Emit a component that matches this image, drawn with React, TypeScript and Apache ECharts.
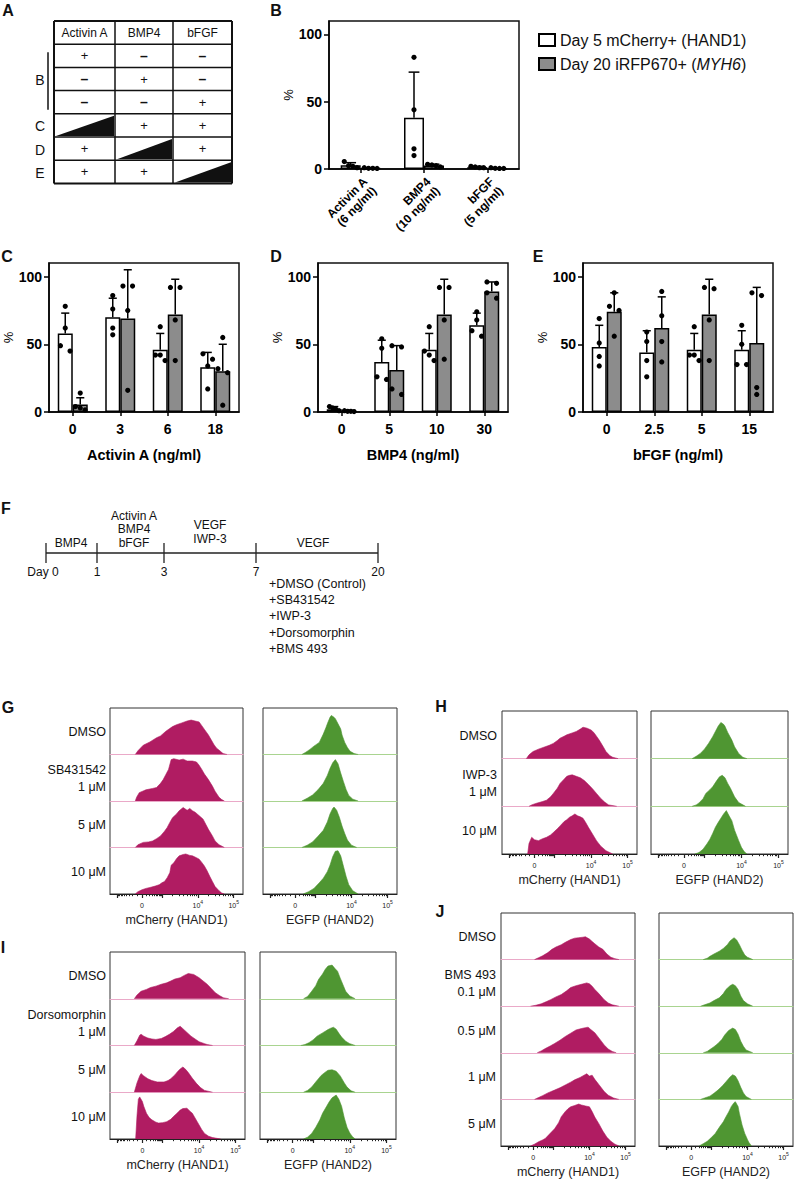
import React, { useEffect, useRef } from "react";
import * as echarts from "echarts";

const FONT = "'Liberation Sans', Arial, Helvetica, sans-serif";
const WHITE_NAME = "Day 5 mCherry+ (HAND1)";
const GRAY_NAME = "Day 20 iRFP670+ (MYH6)";
const BAR_GRAY = "#8c8c8c";
const MAGENTA = "#b01c62";
const GREEN = "#4f9632";
const PINK_BASE = "#eaa9c8";
const GREEN_BASE = "#a9d490";

// ---------- Panel A ----------
const TABLE_HEADERS = ["Activin A", "BMP4", "bFGF"];
const TABLE_CELLS = [
  ["+", "–", "–"],
  ["–", "+", "–"],
  ["–", "–", "+"],
  ["ramp", "+", "+"],
  ["+", "ramp", "+"],
  ["+", "+", "ramp"],
];
const TABLE_GROUP_LABELS = ["B", "C", "D", "E"];
const TABLE_GROUP_ROWS = [[0, 2], [3, 3], [4, 4], [5, 5]];

// ---------- Panel B ----------
const B_CATEGORIES = ["Activin A\n(6 ng/ml)", "BMP4\n(10 ng/ml)", "bFGF\n(5 ng/ml)"];
const B_DAY5_MEAN = [2.7, 38, 1.4];
const B_DAY5_SD = [2, 34, 0.6];
const B_DAY5_POINTS = [[5.5, 2.5, 2, 1], [83, 44, 15, 10], [2, 1.5, 1, 1]];
const B_DAY20_MEAN = [0.6, 2.6, 0.5];
const B_DAY20_SD = [0.3, 1, 0.3];
const B_DAY20_POINTS = [[1, 0.5, 0.5, 0.4], [3.5, 3, 2.5, 1.5], [1, 0.5, 0.4, 0.4]];

// ---------- Panel C ----------
const C_CATEGORIES = ["0", "3", "6", "18"];
const C_DAY5_MEAN = [58, 70, 46, 33];
const C_DAY5_SD = [15, 14, 12, 11];
const C_DAY5_POINTS = [[78, 62, 49, 45], [86, 76, 62, 57], [63, 42, 42, 38], [43, 39, 34, 17]];
const C_DAY20_MEAN = [5.5, 69, 72, 30];
const C_DAY20_SD = [5, 36, 26, 20];
const C_DAY20_POINTS = [[14, 4, 3, 1.5], [93, 93, 75, 16], [92, 92, 68, 38], [55, 32, 29, 5]];

// ---------- Panel D ----------
const D_CATEGORIES = ["0", "5", "10", "30"];
const D_DAY5_MEAN = [2, 37, 46, 64];
const D_DAY5_SD = [2, 16, 12, 9];
const D_DAY5_POINTS = [[4, 3, 2, 1], [54, 47, 26, 24], [63, 45, 42, 38], [74, 68, 60, 56]];
const D_DAY20_MEAN = [0.5, 31, 72, 89];
const D_DAY20_SD = [0.5, 18, 26, 7];
const D_DAY20_POINTS = [[1, 0.5, 0.5, 0.3], [49, 48, 17, 13], [92, 92, 68, 39], [96, 95, 88, 84]];

// ---------- Panel E ----------
const E_CATEGORIES = ["0", "2.5", "5", "15"];
const E_DAY5_MEAN = [48, 44, 46, 46];
const E_DAY5_SD = [16, 16, 12, 14];
const E_DAY5_POINTS = [[69, 51, 41, 34], [59, 52, 38, 26], [63, 42, 42, 38], [64, 50, 35, 35]];
const E_DAY20_MEAN = [74, 62, 72, 51];
const E_DAY20_SD = [14, 23, 26, 41];
const E_DAY20_POINTS = [[88, 78, 75, 56], [89, 71, 52, 37], [91, 92, 68, 38], [88, 86, 18, 13]];

const BAR_Y_TICKS = [0, 50, 100];

// ---------- Panel F ----------
const F_DAYS = ["Day 0", "1", "3", "7", "20"];
const F_STAGE_LABELS = [["BMP4"], ["Activin A", "BMP4", "bFGF"], ["VEGF", "IWP-3"], ["VEGF"]];
const F_TREATMENTS = ["+DMSO (Control)", "+SB431542", "+IWP-3", "+Dorsomorphin", "+BMS 493"];

// ---------- Flow histograms (display position 0-100 across the plot, normalised count) ----------
const HIST_TICK_MAJOR = [-1000, 0, 1000, 10000, 100000];
const HIST_TICK_MINOR = [
  -900, -800, -700, -600, -500, -400, -300, -200, -100,
  100, 200, 300, 400, 500, 600, 700, 800, 900,
  2000, 3000, 4000, 5000, 6000, 7000, 8000, 9000,
  20000, 30000, 40000, 50000, 60000, 70000, 80000, 90000,
];
const HIST_LABEL_VALUES = [0, 10000, 100000];
const HIST_LABEL_TEXTS = ["{b|0}", "{b|10}{s|4}", "{b|10}{s|5}"];

const G_LABELS = ["DMSO", "SB431542\n1 μM", "5 μM", "10 μM"];
const G_MCHERRY = [
  [[19, 0], [21, 0.08], [25, 0.2], [30, 0.27], [35, 0.36], [38, 0.4], [42, 0.5], [47, 0.6], [50, 0.64], [54, 0.68], [58, 0.72], [61, 0.74], [64, 0.72], [67, 0.7], [69, 0.62], [71, 0.54], [74, 0.42], [76, 0.32], [78, 0.22], [80, 0.14], [83, 0.07], [85, 0.02], [88, 0]],
  [[19, 0], [20, 0.08], [22, 0.18], [27, 0.24], [32, 0.27], [35, 0.29], [38, 0.38], [40, 0.46], [42, 0.57], [44, 0.68], [46, 0.89], [48, 0.91], [52, 0.88], [55, 0.9], [58, 0.86], [62, 0.86], [65, 0.84], [67, 0.77], [69, 0.68], [71, 0.58], [74, 0.46], [77, 0.32], [79, 0.21], [82, 0.08], [84, 0.03], [86, 0]],
  [[19, 0], [21, 0.06], [25, 0.11], [29, 0.12], [32, 0.14], [35, 0.19], [38, 0.25], [41, 0.35], [43, 0.43], [45, 0.54], [47, 0.64], [50, 0.72], [52, 0.79], [55, 0.86], [58, 0.8], [60, 0.84], [62, 0.79], [64, 0.76], [66, 0.71], [68, 0.66], [70, 0.61], [72, 0.5], [74, 0.39], [77, 0.25], [79, 0.14], [82, 0.06], [86, 0]],
  [[19, 0], [21, 0.05], [24, 0.09], [27, 0.12], [30, 0.14], [34, 0.17], [37, 0.2], [39, 0.24], [41, 0.27], [43, 0.35], [45, 0.46], [46, 0.62], [48, 0.67], [50, 0.76], [52, 0.82], [55, 0.85], [57, 0.86], [60, 0.83], [62, 0.82], [65, 0.78], [67, 0.75], [69, 0.68], [71, 0.6], [73, 0.5], [75, 0.38], [77, 0.27], [79, 0.16], [82, 0.07], [84, 0.02], [86, 0]],
];
const G_EGFP = [
  [[29, 0], [32, 0.05], [35, 0.11], [38, 0.18], [42, 0.26], [45, 0.44], [47, 0.58], [48, 0.66], [50, 0.8], [51, 0.84], [53, 0.8], [54, 0.77], [56, 0.66], [58, 0.55], [59, 0.42], [61, 0.26], [63, 0.15], [65, 0.07], [68, 0.02], [71, 0]],
  [[29, 0], [33, 0.06], [37, 0.13], [41, 0.24], [45, 0.38], [48, 0.55], [50, 0.7], [52, 0.82], [54, 0.89], [56, 0.8], [58, 0.6], [60, 0.42], [62, 0.25], [64, 0.12], [67, 0.04], [71, 0]],
  [[29, 0], [33, 0.05], [37, 0.12], [41, 0.24], [45, 0.37], [48, 0.55], [50, 0.72], [52, 0.84], [53, 0.87], [55, 0.8], [57, 0.65], [59, 0.46], [61, 0.3], [63, 0.16], [66, 0.05], [70, 0]],
  [[30, 0], [34, 0.05], [38, 0.12], [42, 0.24], [45, 0.34], [48, 0.48], [50, 0.62], [52, 0.8], [54, 0.92], [56, 0.93], [58, 0.82], [60, 0.6], [62, 0.38], [64, 0.2], [67, 0.07], [71, 0]],
];

const H_LABELS = ["DMSO", "IWP-3\n1 μM", "10 μM"];
const H_MCHERRY = [
  [[18, 0], [20, 0.08], [23, 0.15], [27, 0.2], [31, 0.24], [35, 0.28], [38, 0.32], [41, 0.38], [43, 0.43], [46, 0.47], [48, 0.5], [52, 0.54], [55, 0.57], [58, 0.62], [60, 0.66], [63, 0.64], [66, 0.6], [68, 0.55], [70, 0.47], [72, 0.39], [75, 0.25], [77, 0.15], [80, 0.06], [82, 0.03], [86, 0]],
  [[20, 0], [22, 0.03], [25, 0.06], [30, 0.1], [33, 0.13], [36, 0.2], [38, 0.27], [41, 0.38], [43, 0.48], [46, 0.57], [48, 0.63], [50, 0.65], [52, 0.66], [55, 0.63], [58, 0.6], [61, 0.54], [64, 0.46], [67, 0.37], [70, 0.27], [73, 0.17], [76, 0.09], [79, 0.03], [85, 0]],
  [[19, 0], [20, 0.22], [22, 0.35], [24, 0.3], [27, 0.28], [30, 0.32], [33, 0.35], [36, 0.4], [38, 0.45], [41, 0.53], [43, 0.59], [46, 0.68], [48, 0.72], [50, 0.77], [52, 0.8], [54, 0.84], [56, 0.8], [58, 0.78], [60, 0.75], [62, 0.66], [64, 0.56], [67, 0.42], [70, 0.28], [73, 0.17], [77, 0.07], [82, 0]],
];
const H_EGFP = [
  [[30, 0], [33, 0.05], [36, 0.11], [39, 0.2], [42, 0.32], [45, 0.46], [47, 0.57], [49, 0.68], [51, 0.76], [53, 0.72], [54, 0.68], [56, 0.55], [59, 0.39], [61, 0.25], [64, 0.11], [67, 0.03], [70, 0]],
  [[30, 0], [33, 0.03], [35, 0.07], [38, 0.16], [40, 0.27], [43, 0.35], [45, 0.41], [48, 0.54], [50, 0.62], [52, 0.65], [54, 0.6], [56, 0.48], [58, 0.38], [61, 0.2], [64, 0.08], [69, 0]],
  [[32, 0], [35, 0.03], [38, 0.1], [41, 0.22], [43, 0.31], [45, 0.43], [47, 0.56], [49, 0.66], [51, 0.75], [53, 0.84], [55, 0.91], [57, 0.8], [59, 0.7], [61, 0.5], [64, 0.28], [66, 0.14], [68, 0.05], [70, 0]],
];

const I_LABELS = ["DMSO", "Dorsomorphin\n1 μM", "5 μM", "10 μM"];
const I_MCHERRY = [
  [[18, 0], [20, 0.08], [23, 0.16], [27, 0.2], [30, 0.24], [34, 0.27], [38, 0.31], [42, 0.34], [45, 0.38], [48, 0.42], [52, 0.45], [55, 0.5], [58, 0.54], [62, 0.52], [66, 0.45], [69, 0.38], [72, 0.31], [75, 0.22], [78, 0.13], [81, 0.07], [84, 0.02], [88, 0]],
  [[18, 0], [20, 0.1], [22, 0.22], [23, 0.24], [25, 0.2], [28, 0.16], [31, 0.14], [34, 0.13], [38, 0.15], [41, 0.19], [44, 0.24], [47, 0.3], [50, 0.38], [52, 0.41], [54, 0.36], [57, 0.28], [60, 0.2], [63, 0.14], [66, 0.08], [70, 0.04], [72, 0.02], [76, 0]],
  [[18, 0], [20, 0.2], [22, 0.35], [23, 0.4], [25, 0.35], [28, 0.29], [31, 0.25], [35, 0.22], [40, 0.22], [43, 0.25], [45, 0.29], [48, 0.37], [50, 0.44], [52, 0.5], [54, 0.54], [56, 0.49], [58, 0.42], [61, 0.3], [64, 0.19], [67, 0.1], [70, 0.04], [76, 0]],
  [[19, 0], [20, 0.5], [21, 0.85], [22, 0.9], [24, 0.8], [25, 0.7], [27, 0.55], [29, 0.46], [31, 0.41], [34, 0.36], [36, 0.34], [39, 0.35], [42, 0.37], [45, 0.42], [47, 0.48], [50, 0.56], [52, 0.62], [54, 0.65], [57, 0.66], [59, 0.6], [61, 0.55], [63, 0.45], [66, 0.3], [68, 0.2], [70, 0.12], [73, 0.06], [76, 0.03], [82, 0]],
];
const I_EGFP = [
  [[32, 0], [35, 0.05], [38, 0.16], [41, 0.28], [43, 0.41], [46, 0.53], [48, 0.63], [50, 0.7], [53, 0.72], [55, 0.65], [57, 0.59], [59, 0.44], [61, 0.3], [63, 0.16], [66, 0.06], [70, 0]],
  [[30, 0], [33, 0.02], [36, 0.06], [39, 0.12], [42, 0.2], [46, 0.27], [50, 0.34], [52, 0.37], [54, 0.39], [56, 0.35], [58, 0.26], [60, 0.18], [63, 0.09], [66, 0.04], [70, 0]],
  [[32, 0], [35, 0.04], [38, 0.11], [41, 0.22], [45, 0.36], [48, 0.43], [50, 0.47], [53, 0.48], [56, 0.45], [59, 0.35], [62, 0.2], [64, 0.11], [67, 0.03], [70, 0]],
  [[32, 0], [35, 0.04], [38, 0.12], [41, 0.25], [44, 0.41], [46, 0.55], [49, 0.7], [51, 0.8], [53, 0.88], [56, 0.94], [58, 0.85], [60, 0.7], [62, 0.45], [64, 0.25], [66, 0.13], [68, 0.05], [70, 0]],
];

const J_LABELS = ["DMSO", "BMS 493\n0.1 μM", "0.5 μM", "1 μM", "5 μM"];
const J_MCHERRY = [
  [[25, 0], [28, 0.04], [31, 0.08], [35, 0.15], [38, 0.22], [41, 0.27], [45, 0.32], [48, 0.37], [52, 0.43], [55, 0.46], [58, 0.47], [61, 0.48], [63, 0.49], [66, 0.44], [68, 0.39], [70, 0.34], [73, 0.27], [76, 0.22], [79, 0.12], [82, 0.05], [85, 0.02], [88, 0]],
  [[22, 0], [26, 0.02], [30, 0.05], [34, 0.1], [37, 0.14], [41, 0.2], [45, 0.25], [49, 0.33], [52, 0.4], [56, 0.44], [60, 0.47], [64, 0.5], [66, 0.48], [68, 0.43], [70, 0.36], [73, 0.27], [77, 0.14], [80, 0.07], [83, 0.03], [88, 0]],
  [[27, 0], [30, 0.04], [33, 0.09], [37, 0.15], [40, 0.2], [44, 0.27], [48, 0.35], [52, 0.42], [56, 0.49], [60, 0.52], [63, 0.54], [65, 0.55], [67, 0.5], [70, 0.43], [73, 0.32], [77, 0.17], [80, 0.08], [83, 0.03], [86, 0]],
  [[25, 0], [28, 0.04], [31, 0.08], [35, 0.14], [40, 0.2], [44, 0.25], [48, 0.31], [52, 0.37], [55, 0.42], [59, 0.47], [62, 0.52], [64, 0.55], [66, 0.5], [68, 0.52], [70, 0.43], [73, 0.32], [77, 0.17], [80, 0.09], [84, 0.03], [88, 0]],
  [[22, 0], [25, 0.04], [28, 0.09], [31, 0.13], [33, 0.16], [36, 0.25], [40, 0.37], [43, 0.5], [45, 0.63], [48, 0.74], [50, 0.8], [52, 0.84], [55, 0.87], [58, 0.9], [60, 0.88], [63, 0.86], [66, 0.84], [68, 0.74], [70, 0.62], [73, 0.48], [76, 0.32], [79, 0.19], [82, 0.1], [85, 0.04], [88, 0]],
];
const J_EGFP = [
  [[33, 0], [36, 0.03], [38, 0.07], [41, 0.12], [45, 0.18], [48, 0.24], [51, 0.32], [53, 0.4], [56, 0.47], [58, 0.42], [60, 0.32], [62, 0.2], [64, 0.1], [66, 0.05], [70, 0]],
  [[31, 0], [34, 0.03], [38, 0.07], [41, 0.12], [45, 0.18], [48, 0.27], [50, 0.36], [53, 0.44], [55, 0.47], [57, 0.44], [59, 0.36], [61, 0.22], [63, 0.12], [66, 0.05], [70, 0]],
  [[33, 0], [36, 0.03], [38, 0.07], [41, 0.13], [44, 0.2], [47, 0.29], [49, 0.38], [52, 0.48], [55, 0.53], [57, 0.5], [59, 0.4], [61, 0.25], [63, 0.14], [65, 0.06], [70, 0]],
  [[31, 0], [34, 0.03], [38, 0.07], [41, 0.13], [44, 0.2], [47, 0.28], [50, 0.38], [53, 0.48], [55, 0.53], [57, 0.5], [59, 0.4], [61, 0.26], [63, 0.14], [65, 0.06], [69, 0]],
  [[30, 0], [33, 0.05], [36, 0.1], [39, 0.18], [42, 0.27], [45, 0.4], [48, 0.52], [50, 0.63], [52, 0.73], [54, 0.85], [56, 0.93], [57, 0.95], [59, 0.85], [60, 0.7], [62, 0.45], [64, 0.27], [66, 0.14], [67, 0.08], [69, 0]],
];

// ---------- helpers ----------
// biexponential display transform (value -> position 0..100 on the plot)
function biexPos(v: number): number {
  if (v >= 1000) return 39 + 27 * Math.log10(v / 1000);
  const a = Math.asinh(Math.abs(v) / 200) / Math.asinh(5);
  return v >= 0 ? 24 + 15 * a : 24 - 18.5 * a;
}

// spread overlapping dots side by side (fraction of bar width)
function spread(points: number[], closeness: number): number[] {
  const order = points.map((_, i) => i).sort((a, b) => points[b] - points[a]);
  const out = new Array(points.length).fill(0);
  let group: number[] = [];
  const flush = () => {
    const n = group.length;
    group.forEach((gi, k) => {
      out[gi] = n === 1 ? 0 : -0.32 + (0.64 * k) / (n - 1);
    });
    group = [];
  };
  order.forEach((i) => {
    if (group.length && Math.abs(points[group[group.length - 1]] - points[i]) > closeness) flush();
    group.push(i);
  });
  flush();
  return out;
}

function buildOption() {
  const grids: any[] = [];
  const xAxes: any[] = [];
  const yAxes: any[] = [];
  const series: any[] = [];
  const g: any[] = [];

  const txt = (x: number, y: number, text: string, o: any = {}) => ({
    type: "text",
    x,
    y,
    silent: true,
    style: {
      text,
      fill: "#111",
      fontFamily: FONT,
      fontSize: o.size || 12,
      fontWeight: o.weight || "normal",
      align: o.align || "center",
      verticalAlign: o.valign || "middle",
      lineHeight: o.lineHeight,
    },
  });

  // ---------- panel letters ----------
  const letters: [string, number, number][] = [
    ["A", 8, 10], ["B", 276, 10], ["C", 7, 256], ["D", 276, 256], ["E", 538, 256],
    ["F", 6, 508], ["G", 8, 707], ["H", 441, 706], ["I", 3, 947], ["J", 440, 911],
  ];
  letters.forEach(([t, x, y]) => g.push(txt(x, y, t, { size: 16, weight: "bold" })));

  // ---------- Panel A table ----------
  const colX = [54, 115, 173, 232];
  const rowTop = 21;
  const rowH = 23.2;
  const nRows = TABLE_CELLS.length + 1;
  for (let r = 0; r <= nRows; r++) {
    g.push({
      type: "line", silent: true,
      shape: { x1: colX[0], y1: rowTop + r * rowH, x2: colX[3], y2: rowTop + r * rowH },
      style: { stroke: "#111", lineWidth: r === 0 || r === nRows ? 2 : 1.5 },
    });
  }
  colX.forEach((x, i) => {
    g.push({
      type: "line", silent: true,
      shape: { x1: x, y1: rowTop, x2: x, y2: rowTop + nRows * rowH },
      style: { stroke: "#111", lineWidth: i === 0 || i === 3 ? 2 : 1.5 },
    });
  });
  TABLE_HEADERS.forEach((h, c) => g.push(txt((colX[c] + colX[c + 1]) / 2, rowTop + rowH / 2, h, { size: 12 })));
  TABLE_CELLS.forEach((row, r) => {
    row.forEach((cell, c) => {
      const x0 = colX[c], x1 = colX[c + 1];
      const y0 = rowTop + (r + 1) * rowH, y1 = y0 + rowH;
      if (cell === "ramp") {
        g.push({
          type: "polygon", silent: true,
          shape: { points: [[x0 + 2, y1 - 1], [x1 - 1, y0 + 2], [x1 - 1, y1 - 1]] },
          style: { fill: "#111" },
        });
      } else {
        g.push(txt((x0 + x1) / 2, (y0 + y1) / 2, cell, { size: cell === "+" ? 13 : 14, weight: cell === "+" ? "normal" : "bold" }));
      }
    });
  });
  TABLE_GROUP_LABELS.forEach((lab, i) => {
    const [a, b] = TABLE_GROUP_ROWS[i];
    const yc = rowTop + rowH * ((a + b) / 2 + 1.5) + 1;
    g.push(txt(40, yc, lab, { size: 14 }));
    if (b > a) {
      g.push({
        type: "line", silent: true,
        shape: { x1: 48, y1: rowTop + rowH * (a + 1) + 8, x2: 48, y2: rowTop + rowH * (b + 2) - 4 },
        style: { stroke: "#111", lineWidth: 1.5 },
      });
    }
  });

  // ---------- bar panels ----------
  const errorSeries = (gi: number, mean: number[], sd: number[], side: number, barW: number) => ({
    type: "custom", xAxisIndex: gi, yAxisIndex: gi, z: 4, silent: true,
    data: mean.map((m, i) => [i, m, sd[i]]),
    renderItem: (_p: any, api: any) => {
      const base = api.coord([api.value(0), api.value(1)]);
      const top = api.coord([api.value(0), api.value(1) + api.value(2)]);
      const x = base[0] + (side * barW) / 2;
      const cap = barW * 0.27;
      return {
        type: "group",
        children: [
          { type: "line", shape: { x1: x, y1: base[1], x2: x, y2: top[1] }, style: { stroke: "#000", lineWidth: 1.5 } },
          { type: "line", shape: { x1: x - cap, y1: top[1], x2: x + cap, y2: top[1] }, style: { stroke: "#000", lineWidth: 1.5 } },
        ],
      };
    },
  });
  const dotSeries = (gi: number, pts: number[][], side: number, barW: number) => ({
    type: "custom", xAxisIndex: gi, yAxisIndex: gi, z: 5, silent: true,
    data: pts.flatMap((arr, ci) => {
      const j = spread(arr, 4);
      return arr.map((v, k) => [ci, v, j[k]]);
    }),
    renderItem: (_p: any, api: any) => {
      const p = api.coord([api.value(0), api.value(1)]);
      return {
        type: "circle",
        shape: { cx: p[0] + (side * barW) / 2 + api.value(2) * barW, cy: p[1], r: 2.6 },
        style: { fill: "#000" },
      };
    },
  });

  const addBarPanel = (p: any) => {
    const gi = grids.length;
    grids.push({ ...p.box, show: true, borderColor: "#111", borderWidth: 1.5, backgroundColor: "transparent", containLabel: false });
    xAxes.push({
      type: "category", gridIndex: gi, data: p.cats,
      axisLine: { lineStyle: { color: "#000", width: 1.5 } },
      axisTick: { show: true, alignWithLabel: true, length: 4, lineStyle: { color: "#000", width: 1.5 } },
      axisLabel: {
        fontFamily: FONT, fontWeight: "bold", fontSize: p.labelSize, color: "#000", margin: p.labelMargin,
        rotate: p.rotate || 0, interval: 0, lineHeight: p.labelSize + 1,
        ...(p.rotate ? { align: "right", verticalAlign: "top" } : {}),
      },
      name: p.xName, nameLocation: "middle", nameGap: 35,
      nameTextStyle: { fontFamily: FONT, fontWeight: "bold", fontSize: 14.5, color: "#000" },
    });
    yAxes.push({
      type: "value", gridIndex: gi, min: 0, max: 110,
      axisLine: { show: true, lineStyle: { color: "#000", width: 1.5 } },
      axisTick: { show: true, length: 5, customValues: BAR_Y_TICKS, lineStyle: { color: "#000", width: 1.5 } },
      axisLabel: { customValues: BAR_Y_TICKS, fontFamily: FONT, fontWeight: "bold", fontSize: 14, color: "#000", margin: 7 },
      splitLine: { show: false },
      name: "%", nameLocation: "middle", nameGap: 34, nameRotate: 90,
      nameTextStyle: { fontFamily: FONT, fontSize: 13, color: "#000" },
    });
    series.push({
      type: "bar", name: WHITE_NAME, xAxisIndex: gi, yAxisIndex: gi, data: p.wMean,
      barWidth: p.barW, barGap: "0%", silent: true,
      itemStyle: { color: "#ffffff", borderColor: "#000", borderWidth: 1.5 },
    });
    series.push({
      type: "bar", name: GRAY_NAME, xAxisIndex: gi, yAxisIndex: gi, data: p.gMean,
      barWidth: p.barW, barGap: "0%", silent: true,
      itemStyle: { color: BAR_GRAY, borderColor: "#000", borderWidth: 1.5 },
    });
    series.push(errorSeries(gi, p.wMean, p.wSd, -1, p.barW));
    series.push(errorSeries(gi, p.gMean, p.gSd, 1, p.barW));
    series.push(dotSeries(gi, p.wPts, -1, p.barW));
    series.push(dotSeries(gi, p.gPts, 1, p.barW));
  };

  addBarPanel({
    box: { left: 329, top: 21, width: 190, height: 148 }, cats: B_CATEGORIES, barW: 20,
    labelSize: 12, labelMargin: 6, rotate: 45,
    wMean: B_DAY5_MEAN, wSd: B_DAY5_SD, wPts: B_DAY5_POINTS,
    gMean: B_DAY20_MEAN, gSd: B_DAY20_SD, gPts: B_DAY20_POINTS,
  });
  addBarPanel({
    box: { left: 49, top: 263, width: 190, height: 149 }, cats: C_CATEGORIES, barW: 15,
    labelSize: 14, labelMargin: 9, xName: "Activin A (ng/ml)",
    wMean: C_DAY5_MEAN, wSd: C_DAY5_SD, wPts: C_DAY5_POINTS,
    gMean: C_DAY20_MEAN, gSd: C_DAY20_SD, gPts: C_DAY20_POINTS,
  });
  addBarPanel({
    box: { left: 318, top: 263, width: 190, height: 149 }, cats: D_CATEGORIES, barW: 15,
    labelSize: 14, labelMargin: 9, xName: "BMP4 (ng/ml)",
    wMean: D_DAY5_MEAN, wSd: D_DAY5_SD, wPts: D_DAY5_POINTS,
    gMean: D_DAY20_MEAN, gSd: D_DAY20_SD, gPts: D_DAY20_POINTS,
  });
  addBarPanel({
    box: { left: 583, top: 263, width: 190, height: 149 }, cats: E_CATEGORIES, barW: 15,
    labelSize: 14, labelMargin: 9, xName: "bFGF (ng/ml)",
    wMean: E_DAY5_MEAN, wSd: E_DAY5_SD, wPts: E_DAY5_POINTS,
    gMean: E_DAY20_MEAN, gSd: E_DAY20_SD, gPts: E_DAY20_POINTS,
  });

  // ---------- Panel F timeline ----------
  const tickX = [46, 97, 164, 256, 378];
  const lineY = 553;
  g.push({ type: "line", silent: true, shape: { x1: tickX[0], y1: lineY, x2: tickX[4], y2: lineY }, style: { stroke: "#222", lineWidth: 1.3 } });
  tickX.forEach((x, i) => {
    g.push({ type: "line", silent: true, shape: { x1: x, y1: lineY - 10, x2: x, y2: lineY + 10 }, style: { stroke: "#222", lineWidth: 1.3 } });
    g.push(txt(i === 0 ? x - 3 : x, 572, F_DAYS[i], { size: 12 }));
  });
  F_STAGE_LABELS.forEach((lines, i) => {
    const cx = i === 0 ? 71 : i === 1 ? 134 : i === 2 ? 210 : 313;
    const bottom = i === 2 ? 539 : 543;
    lines.forEach((t, k) => g.push(txt(cx, bottom - (lines.length - 1 - k) * 13.7, t, { size: 12 })));
  });
  F_TREATMENTS.forEach((t, k) => g.push(txt(269, 584 + k * 16.2, t, { size: 12.5, align: "left" })));

  // ---------- flow histogram panels ----------
  const labelLookup = (v: number) => {
    for (let i = 0; i < HIST_LABEL_VALUES.length; i++) {
      if (Math.abs(biexPos(HIST_LABEL_VALUES[i]) - v) < 0.01) return HIST_LABEL_TEXTS[i];
    }
    return "";
  };
  const addHistColumn = (box: any, hists: number[][][], fill: string, base: string, title: string) => {
    const fi = grids.length;
    grids.push({ ...box, show: true, borderColor: "#333", borderWidth: 1, backgroundColor: "transparent" });
    xAxes.push({
      type: "value", gridIndex: fi, min: 0, max: 100,
      axisLine: { lineStyle: { color: "#222", width: 1.2 } },
      axisTick: { show: true, length: 4, customValues: HIST_TICK_MAJOR.map(biexPos), lineStyle: { color: "#222", width: 1.2 } },
      axisLabel: {
        customValues: HIST_LABEL_VALUES.map(biexPos), margin: 5,
        formatter: (v: number) => labelLookup(v),
        rich: {
          b: { fontFamily: FONT, fontSize: 7, color: "#222", lineHeight: 10, verticalAlign: "bottom" },
          s: { fontFamily: FONT, fontSize: 5, color: "#222", lineHeight: 10, verticalAlign: "top" },
        },
      },
      splitLine: { show: false },
      name: title, nameLocation: "middle", nameGap: 19,
      nameTextStyle: { fontFamily: FONT, fontSize: 12.5, color: "#222" },
    });
    yAxes.push({ type: "value", gridIndex: fi, show: false, min: 0, max: 1 });

    const ti = grids.length;
    grids.push({ ...box, show: false });
    xAxes.push({
      type: "value", gridIndex: ti, min: 0, max: 100,
      axisLine: { show: false },
      axisTick: { show: true, length: 2.2, customValues: HIST_TICK_MINOR.map(biexPos), lineStyle: { color: "#222", width: 1 } },
      axisLabel: { show: false },
      splitLine: { show: false },
    });
    yAxes.push({ type: "value", gridIndex: ti, show: false, min: 0, max: 1 });

    const n = hists.length;
    const rh = box.height / n;
    hists.forEach((h, r) => {
      const gi = grids.length;
      grids.push({ left: box.left, width: box.width, top: box.top + r * rh, height: rh, show: false });
      xAxes.push({
        type: "value", gridIndex: gi, min: 0, max: 100,
        axisLine: { show: r < n - 1, lineStyle: { color: base, width: 1.2 } },
        axisTick: { show: false }, axisLabel: { show: false }, splitLine: { show: false },
      });
      yAxes.push({ type: "value", gridIndex: gi, show: false, min: 0, max: 1 });
      series.push({
        type: "line", xAxisIndex: gi, yAxisIndex: gi, data: h, symbol: "none", silent: true, z: 3,
        lineStyle: { color: fill, width: 0.6 },
        areaStyle: { color: fill, opacity: 1 },
      });
    });
  };
  const addRowLabels = (box: any, labels: string[], right: number) => {
    const rh = box.height / labels.length;
    labels.forEach((l, r) => g.push(txt(right, box.top + (r + 0.5) * rh + 1, l, { size: 12.5, align: "right", lineHeight: 17 })));
  };

  const panels = [
    { labels: G_LABELS, m: G_MCHERRY, e: G_EGFP, mb: { left: 110, top: 708, width: 133, height: 186 }, eb: { left: 263, top: 708, width: 134, height: 186 }, right: 106 },
    { labels: H_LABELS, m: H_MCHERRY, e: H_EGFP, mb: { left: 502, top: 711, width: 135, height: 143 }, eb: { left: 651, top: 711, width: 137, height: 143 }, right: 497 },
    { labels: I_LABELS, m: I_MCHERRY, e: I_EGFP, mb: { left: 110, top: 952, width: 135, height: 187 }, eb: { left: 260, top: 952, width: 136, height: 187 }, right: 106 },
    { labels: J_LABELS, m: J_MCHERRY, e: J_EGFP, mb: { left: 501, top: 913, width: 134, height: 233 }, eb: { left: 659, top: 913, width: 134, height: 233 }, right: 496 },
  ];
  panels.forEach((p) => {
    addHistColumn(p.mb, p.m, MAGENTA, PINK_BASE, "mCherry (HAND1)");
    addHistColumn(p.eb, p.e, GREEN, GREEN_BASE, "EGFP (HAND2)");
    addRowLabels(p.mb, p.labels, p.right);
  });

  return {
    animation: false,
    backgroundColor: "#ffffff",
    textStyle: { fontFamily: FONT },
    legend: {
      left: 533, top: 27, orient: "vertical", selectedMode: false,
      itemWidth: 16, itemHeight: 12, itemGap: 8, icon: "rect",
      data: [WHITE_NAME, GRAY_NAME],
      formatter: (name: string) => (name === GRAY_NAME ? "Day 20 iRFP670+ ({i|MYH6})" : name),
      textStyle: {
        fontFamily: FONT, fontSize: 16, color: "#111",
        rich: { i: { fontFamily: FONT, fontSize: 16, fontStyle: "italic", color: "#111" } },
      },
    },
    grid: grids,
    xAxis: xAxes,
    yAxis: yAxes,
    series,
    graphic: { elements: g },
  };
}

export default function App() {
  const ref = useRef<HTMLDivElement>(null);
  useEffect(() => {
    document.body.style.margin = "0";
    const chart = echarts.init(ref.current as HTMLDivElement, undefined, { renderer: "svg" });
    chart.setOption(buildOption() as any);
    return () => chart.dispose();
  }, []);
  return <div ref={ref} style={{ width: 796, height: 1182 }} />;
}
